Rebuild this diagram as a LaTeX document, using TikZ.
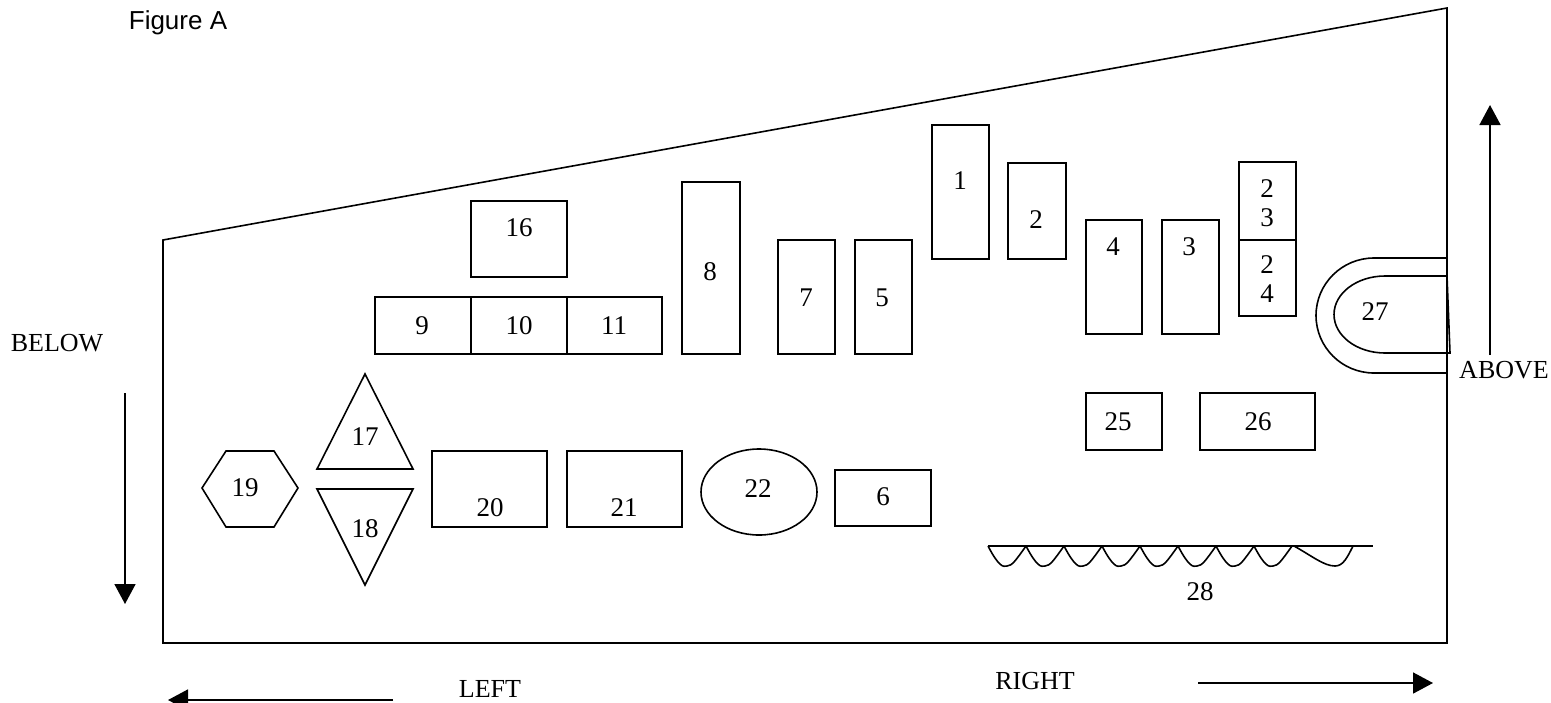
\documentclass[tikz,border=0pt]{standalone}
\usepackage{fontspec}
\setmainfont{Liberation Serif}
\newfontfamily\figfont{Liberation Sans}
\usetikzlibrary{arrows.meta}
\tikzset{outl/.style={draw,line width=0.8pt},
 num/.style={font=\fontsize{13.5}{14.5}\selectfont,align=center,inner sep=0pt},
 dir/.style={font=\fontsize{13}{14}\selectfont,inner sep=0pt},
 arrow/.style={-{Triangle[length=10pt,width=10.5pt]},line width=0.8pt}}
\begin{document}
\begin{tikzpicture}[x=0.5pt,y=-0.5pt]
\useasboundingbox (0,0) rectangle (1551,702);
% outline
\draw[outl] (163,240) -- (1447,8) -- (1447,643) -- (163,643) -- cycle;
\node[font=\figfont\fontsize{13}{14}\selectfont,inner sep=0pt] (fig) at (178,23) {Figure A};

% upper row
\draw[outl] (471,201) rectangle (567,277);
\node[num] (n16) at (519,228) {16};
\draw[outl] (375,297) rectangle (471,354);
\draw[outl] (471,297) rectangle (567,354);
\draw[outl] (567,297) rectangle (662,354);
\node[num] (n9) at (422,326) {9};
\node[num] (n10) at (519,326) {10};
\node[num] (n11) at (614,326) {11};
\draw[outl] (682,182) rectangle (740,354);
\node[num] (n8) at (710,272) {8};
\draw[outl] (778,240) rectangle (835,354);
\node[num] (n7) at (806,298) {7};
\draw[outl] (855,240) rectangle (912,354);
\node[num] (n5) at (882,298) {5};
\draw[outl] (932,125) rectangle (989,259);
\node[num] (n1) at (960,181) {1};
\draw[outl] (1008,163) rectangle (1066,259);
\node[num] (n2) at (1036,220) {2};
\draw[outl] (1086,220) rectangle (1142,334);
\node[num] (n4) at (1113,247) {4};
\draw[outl] (1162,220) rectangle (1219,334);
\node[num] (n3) at (1189,247) {3};
\draw[outl] (1239,162) rectangle (1296,240);
\draw[outl] (1239,240) rectangle (1296,316);
\node[num] (n23) at (1267,203) {2\\3};
\node[num] (n24) at (1267,279) {2\\4};

% 27
\draw[outl] (1447,258) -- (1374,258) arc[start angle=270,end angle=90,x radius=58,y radius=57.5] -- (1447,373);
\draw[outl] (1447,276) -- (1385,276) arc[start angle=270,end angle=90,x radius=51,y radius=38.5] -- (1450,353) -- cycle;
\node[num] (n27) at (1375,312) {27};

% lower row
\draw[outl] (1086,393) rectangle (1162,450);
\node[num] (n25) at (1118,422) {25};
\draw[outl] (1200,393) rectangle (1315,450);
\node[num] (n26) at (1258,422) {26};
\draw[outl] (835,470) rectangle (931,526);
\node[num] (n6) at (883,497) {6};
\draw[outl] (759,492) ellipse [x radius=58,y radius=43];
\node[num] (n22) at (758,489) {22};
\draw[outl] (567,451) rectangle (682,527);
\node[num] (n21) at (624,508) {21};
\draw[outl] (432,451) rectangle (547,527);
\node[num] (n20) at (490,508) {20};
\draw[outl] (365,374) -- (413,469) -- (317,469) -- cycle;
\node[num] (n17) at (365,437) {17};
\draw[outl] (317,489) -- (413,489) -- (365,585) -- cycle;
\node[num] (n18) at (365,529) {18};
\draw[outl] (202,488) -- (226,451) -- (274,451) -- (298,488) -- (274,527) -- (226,527) -- cycle;
\node[num] (n19) at (245,488) {19};

% 28
\draw[outl] (988,546) -- (1373,546);
\foreach \x in {988,1026,...,1254}
  \draw[outl] (\x,546) .. controls (\x+11,567) and (\x+15,567) .. (\x+19,566)
    .. controls (\x+24,566) and (\x+28,560) .. (\x+38,546);
\draw[outl] (1294,546) .. controls (1312,556) and (1324,566) .. (1335,566)
  .. controls (1343,566) and (1347,558) .. (1353,546);
\node[num] (n28) at (1200,592) {28};

% directions
\coordinate (bt) at (125,393);
\coordinate (bb) at (125,604);
\draw[arrow] (bt) -- (bb);
\node[dir] (below) at (57,343) {BELOW};
\coordinate (ab) at (1490,355);
\coordinate (at) at (1490,105);
\draw[arrow] (ab) -- (at);
\node[dir] (above) at (1504,370) {ABOVE};
\coordinate (lr) at (393,700);
\coordinate (ll) at (168,700);
\draw[arrow] (lr) -- (ll);
\node[dir] (left) at (490,689) {LEFT};
\coordinate (rl) at (1198,683);
\coordinate (rr) at (1433,683);
\draw[arrow] (rl) -- (rr);
\node[dir] (right) at (1035,681) {RIGHT};
\end{tikzpicture}
\end{document}
